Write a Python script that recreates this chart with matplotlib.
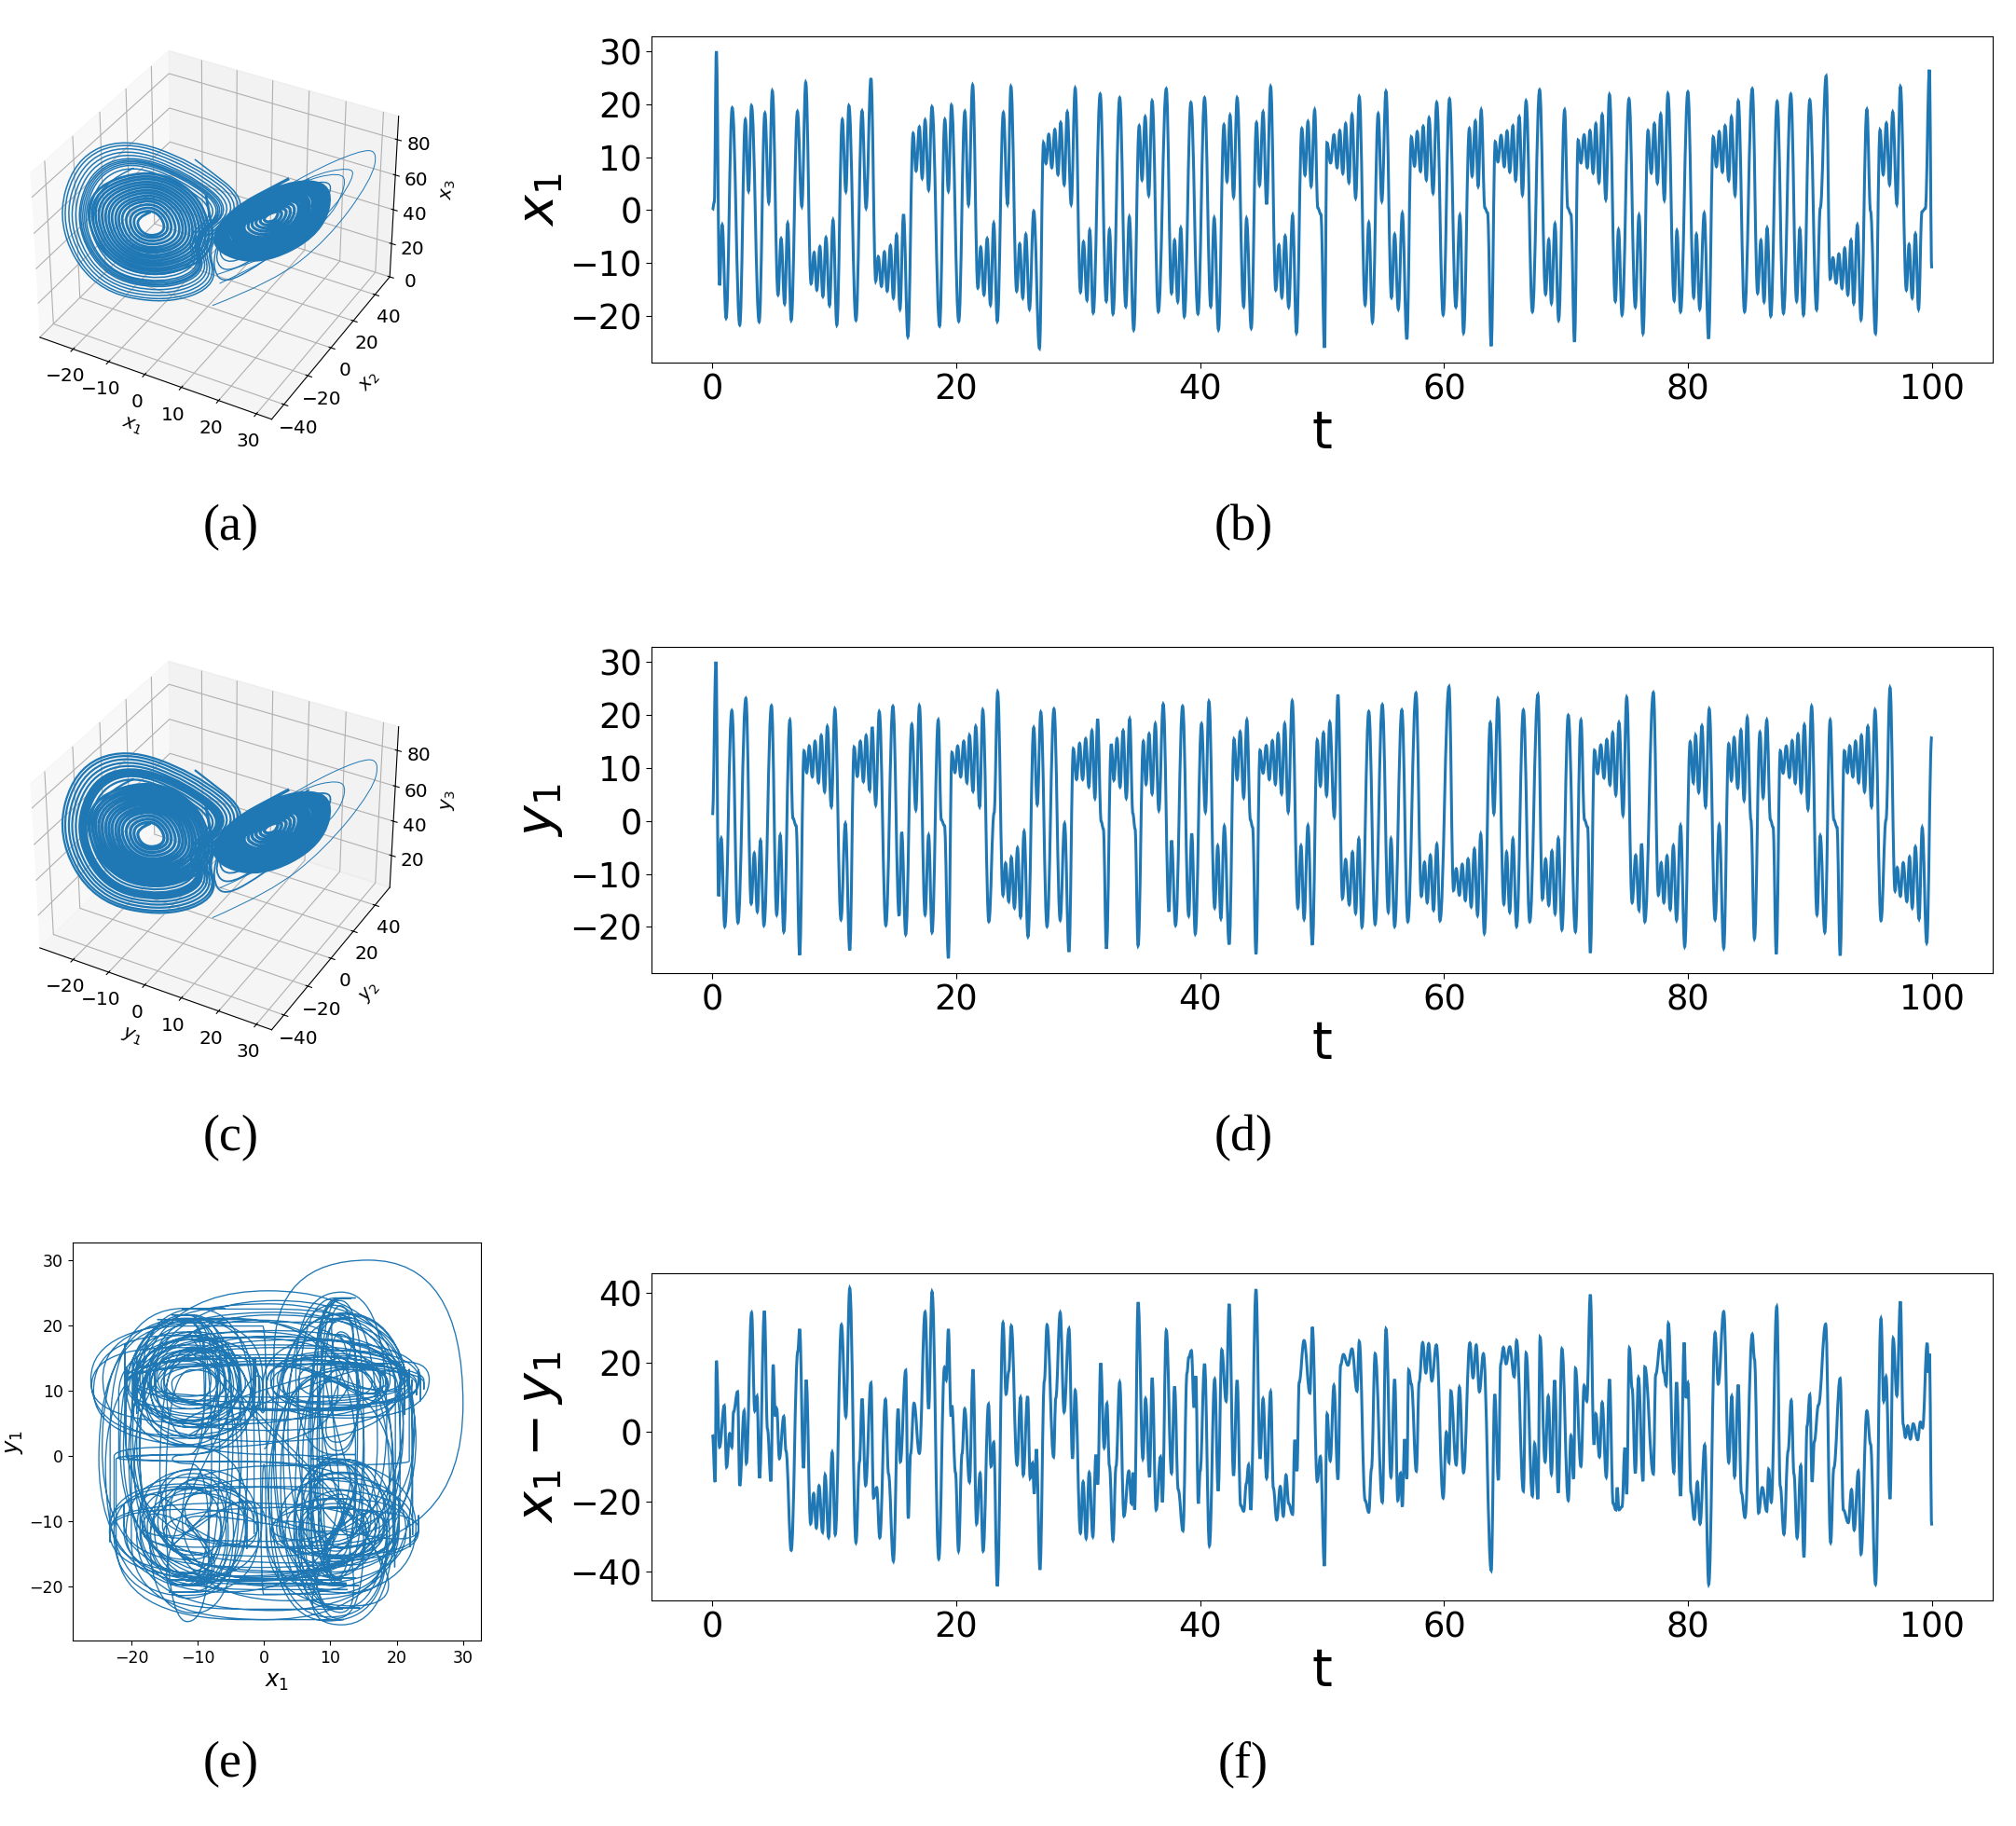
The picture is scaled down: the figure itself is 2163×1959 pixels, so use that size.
import numpy as np
import matplotlib
matplotlib.use('Agg')
import matplotlib.pyplot as plt
from matplotlib.patches import PathPatch
from matplotlib.path import Path
from mpl_toolkits.mplot3d import proj3d

x1_puntos = [(0,0),(.15,1.5),(.32,30),(.58,-14.2),(.8,-2.8),(1.12,-20.4),(1.62,19.3),(2.24,-21.7),(2.7,17.1),(2.96,3.6),
(3.2,19.7),(3.83,-21.1),(4.3,18.3),(4.62,1.4),(4.91,22.5),(5.38,-16),(5.63,-5.4),(5.92,-17.7),(6.17,-2.5),(6.46,-20.8),
(6.97,18.6),(7.33,.7),(7.65,24.1),(8.09,-13.9),(8.34,-8),(8.56,-15.1),(8.81,-6.9),(9.06,-16.3),(9.31,-5.2),(9.6,-18),
(9.89,-1.9),(10.2,-21.7),(10.65,17.1),(10.94,3.5),(11.19,19.7),(11.77,-20.8),(12.27,18.7),(12.6,.4),(13,24.9),(13.39,-13.4),
(13.6,-8.8),(13.86,-14.4),(14.1,-7.9),(14.33,-15.3),(14.6,-6.7),(14.84,-16.6),(15.1,-4.7),(15.38,-18.7),(15.67,-.8),(16.03,-23.9),
(16.46,14.5),(16.7,7.4),(16.97,15.7),(17.2,6),(17.44,17),(17.73,3.8),(18,19.5),(18.63,-21.9),(19.06,17.1),(19.35,3.6),
(19.6,19.8),(20.2,-21),(20.7,18.6),(21,1),(21.34,23.6),(21.77,-14.7),(22,-7),(22.27,-16),(22.53,-5.4),(22.8,-17.9),
(23.07,-2.5),(23.36,-21),(23.86,18.4),(24.2,1.1),(24.48,23.3),(24.95,-15.3),(25.2,-6.4),(25.45,-16.6),(25.7,-4.6),(26,-18.7),
(26.35,-.2),(26.82,-26.1),(27.15,12.7),(27.36,8.8),(27.58,14.3),(27.83,8),(28.08,15.2),(28.34,6.7),(28.56,16.5),(28.85,4.8),
(29.1,18.5),(29.42,1.1),(29.75,23),(30.18,-15.5),(30.43,-6),(30.72,-17),(30.94,-3.8),(31.23,-19.4),(31.8,21.9),(32.3,-17.2),
(32.56,-3.7),(32.85,-19.6),(33.4,21.2),(33.9,-18.2),(34.19,-1.3),(34.55,-22.6),(35,15.9),(35.23,5.7),(35.49,17.6),(35.78,2.8),
(36.06,20.6),(36.57,-19.2),(37.22,22.9),(37.65,-15.7),(37.9,-5.7),(38.16,-17.3),(38.41,-3.4),(38.7,-20.1),(39.24,20.3),(39.82,-19.6),
(40.36,21.2),(40.87,-18.2),(41.15,-1.5),(41.5,-22.6),(41.95,16.1),(42.2,5.4),(42.45,17.9),(42.74,2.5),(43.03,21.2),(43.57,-18.2),
(43.8,-1.6),(44.19,-22.3),(44.62,16.5),(44.87,4.7),(45.16,18.5),(45.45,1.1),(45.78,23.3),(46.2,-15.1),(46.46,-6.6),(46.7,-16.5),
(46.97,-4.9),(47.26,-18.3),(47.58,-1),(47.9,-23.2),(48.34,15.4),(48.6,6.6),(48.84,16.7),(49.1,4.5),(49.39,18.9),(49.65,.4),
(49.9,-.8),(50.2,-26),(50.4,12.7),(50.7,8.9),(50.97,14.2),(51.23,8),(51.45,15),(51.7,6.9),(51.93,16.3),(52.2,5.2),
(52.45,18),(52.75,2.3),(53.05,21.4),(53.53,-17.9),(53.83,-2.4),(54.13,-21.2),(54.6,18.2),(54.9,1.7),(55.24,22.4),(55.69,-16.5),
(55.95,-4.6),(56.25,-18.7),(56.58,-.6),(56.95,-24.4),(57.32,13.8),(57.58,8.3),(57.8,14.8),(58.07,7.3),(58.29,15.8),(58.55,5.7),
(58.77,17.4),(59.1,3.2),(59.4,20.3),(59.93,-19.8),(60.45,21),(60.97,-18.3),(61.3,-1),(61.6,-23.2),(62.08,15.4),(62.3,6.4),
(62.57,16.8),(62.8,4.5),(63.05,18.9),(63.35,.4),(63.57,-.5),(63.87,-25.7),(64.2,12.9),(64.42,9.1),(64.68,14.1),(64.94,8.2),
(65.17,14.9),(65.39,7.2),(65.65,15.9),(65.87,5.6),(66.17,17.6),(66.43,2.9),(66.73,20.6),(67.25,-19.2),(67.84,22.7),(68.33,-15.9),
(68.59,-5.6),(68.81,-17.6),(69.1,-2.6),(69.4,-20.8),(69.89,18.9),(70.15,.4),(70.41,-.8),(70.7,-24.9),(71,13.2),(71.23,8.9),
(71.49,14.2),(71.75,8),(71.97,15),(72.23,7),(72.45,16.3),(72.71,5.2),(72.97,18),(73.27,2),(73.57,21.8),(74.05,-17.2),
(74.31,-3.7),(74.6,-19.8),(75.17,21),(75.69,-18.3),(75.99,-1),(76.32,-23.3),(76.73,15),(77,7),(77.25,16.3),(77.5,5.1),
(77.77,18.1),(78.07,1.9),(78.36,22),(78.88,-17.1),(79.1,-3.9),(79.4,-19.2),(80,22.3),(80.48,-16.5),(80.7,-4.6),(80.97,-18.7),
(81.34,-.6),(81.7,-24.3),(82.08,13.8),(82.34,8.2),(82.57,14.8),(82.83,7.2),(83.05,15.9),(83.35,5.6),(83.57,17.6),(83.87,2.8),
(84.13,20.6),(84.65,-19.2),(85.28,22.9),(85.72,-15.7),(85.99,-5.7),(86.25,-17.3),(86.5,-3.4),(86.8,-20),(87.32,20.5),(87.84,-19.5),
(88.44,21.9),(88.92,-17.2),(89.18,-3.6),(89.48,-19.8),(90,20.8),(90.56,-18.8),(90.86,.4),(91.34,25.3),(91.67,-13),(91.9,-9),
(92.16,-13.8),(92.38,-8.3),(92.64,-14.8),(92.86,-7.2),(93.12,-16),(93.38,-5.7),(93.6,-17.6),(93.9,-2.8),(94.2,-20.7),(94.68,19),
(94.98,-.2),(95.39,-23.3),(95.76,15.1),(96.02,6.7),(96.28,16.4),(96.54,4.8),(96.8,18.5),(97.14,1.1),(97.43,23.3),(97.92,-15.1),
(98.14,-6.5),(98.4,-16.6),(98.66,-4.5),(98.92,-18.7),(99.2,-.3),(99.48,.3),(99.81,26.5),(100,-11)]

y1_puntos = [(0,1.1),(.29,30),(.5,-14.2),(.72,-3.3),(1.01,-19.9),(1.59,20.8),(2.09,-19.2),(2.74,23.1),(3.18,-15.6),(3.43,-6.1),
(3.68,-17.1),(3.94,-3.7),(4.22,-19.7),(4.84,21.7),(5.27,-17.7),(5.56,-2.7),(5.85,-20.9),(6.35,19),(6.6,.5),(6.86,-.9),
(7.15,-25.3),(7.51,13.2),(7.73,9.1),(7.94,14.1),(8.19,8.3),(8.41,15),(8.7,7.2),(8.92,16.1),(9.2,5.5),(9.42,17.8),
(9.75,2.7),(10.04,21.1),(10.54,-18.6),(10.9,-.5),(11.26,-24.4),(11.62,13.9),(11.88,8.4),(12.13,15),(12.38,7.4),(12.6,16.1),
(12.89,5.8),(13.1,17.7),(13.39,3),(13.68,20.6),(14.22,-19.7),(14.8,21.6),(15.31,-17.9),(15.52,-2.1),(15.85,-21.4),(16.35,18.2),
(16.68,2.1),(16.97,21.7),(17.44,-17.7),(17.73,-2.7),(18.01,-21),(18.52,19),(18.77,.2),(19.03,-.9),(19.35,-25.9),(19.64,12.9),
(19.89,9.1),(20.11,14.1),(20.36,8.3),(20.61,15),(20.87,7.2),(21.08,16.1),(21.37,5.6),(21.59,17.8),(21.91,2.7),(22.17,20.9),
(22.67,-19),(23.1,1.5),(23.39,24.3),(23.83,-14),(24.04,-8),(24.3,-15.2),(24.51,-6.9),(24.77,-16.4),(25.02,-5.1),(25.27,-18.1),
(25.56,-2),(25.88,-21.8),(26.35,17.6),(26.64,3.1),(26.93,20.5),(27.44,-19.9),(28.01,21.1),(28.52,-18.7),(28.88,-.5),(29.24,-24.7),
(29.6,13.6),(29.86,7.8),(30.11,14.6),(30.36,7.8),(30.61,15.5),(30.87,6.4),(31.12,17),(31.37,4.3),(31.59,19.2),(31.88,-.1),
(32.06,-1.5),(32.31,-24.1),(32.71,14.5),(32.92,7.7),(33.18,15.5),(33.43,6.4),(33.68,17),(33.94,4.3),(34.22,19.2),(34.48,1.4),
(34.66,-1.5),(34.91,-23.5),(35.34,15),(35.56,6.9),(35.81,16.4),(36.06,5.1),(36.32,18.3),(36.61,2),(36.97,22),(37.44,-17.1),
(37.65,-3.7),(37.98,-19.7),(38.56,21.6),(39.06,-17.9),(39.31,-2.4),(39.6,-21.3),(40.11,18.3),(40.43,1.7),(40.72,22.5),(41.19,-16.4),
(41.44,-4.7),(41.7,-18.4),(41.98,-1),(42.38,-23.3),(42.78,15.4),(43.03,7.8),(43.28,16.8),(43.57,4.4),(43.83,19),(44.12,.2),
(44.3,-1.2),(44.58,-25.1),(44.91,13.3),(45.16,9),(45.42,14.2),(45.67,7.8),(45.92,15.1),(46.17,6.9),(46.39,16.4),(46.68,5.1),
(46.93,18.3),(47.22,1.7),(47.55,22.6),(48.01,-16.4),(48.27,-4.7),(48.52,-18.5),(48.84,-.9),(49.2,-23.4),(49.6,15.2),(49.86,6.6),
(50.11,16.6),(50.37,4.8),(50.63,18.6),(51,.8),(51.3,23.8),(51.67,-14.6),(51.93,-7.3),(52.23,-15.8),(52.49,-5.9),(52.75,-17.4),
(53.01,-3.4),(53.27,-20),(53.83,20.6),(54.35,-19.5),(54.94,21.9),(55.43,-17.2),(55.65,-3.4),(55.95,-19.9),(56.54,20.9),(57.03,-19),
(57.7,24.1),(58.14,-14.2),(58.4,-7.8),(58.62,-15.4),(58.88,-6.5),(59.14,-16.8),(59.41,-4.4),(59.67,-18.8),(60.41,25.3),(60.78,-13.1),
(61,-9),(61.26,-14),(61.49,-8.2),(61.75,-15),(61.97,-7.2),(62.23,-16.2),(62.49,-5.3),(62.75,-17.8),(63.01,-2.5),(63.31,-21.2),
(63.79,18.5),(64.09,1.4),(64.42,23),(64.91,-15.7),(65.13,-5.9),(65.39,-17.2),(65.65,-3.4),(65.95,-19.9),(66.51,20.9),(67.03,-19),
(67.7,23.8),(68.07,-14.7),(68.33,-7.2),(68.59,-15.9),(68.85,-5.7),(69.11,-17.5),(69.37,-3.3),(69.67,-20.5),(70.19,19.9),(70.78,-20.9),
(71.23,19),(71.52,.2),(71.78,-1.2),(72,-24.9),(72.34,13.3),(72.6,8.9),(72.86,14.3),(73.12,8.1),(73.35,15.3),(73.61,6.8),
(73.83,16.6),(74.09,4.9),(74.35,18.5),(74.68,1.1),(74.98,23.3),(75.43,-15.4),(75.72,-6.5),(75.99,-16.8),(76.2,-4.3),(76.47,-19),
(77.17,24.2),(77.58,-14),(77.81,-7.9),(78.03,-15.4),(78.29,-6.6),(78.55,-16.7),(78.81,-4.7),(79.07,-18.7),(79.4,-.9),(79.74,-23.7),
(80.19,14.9),(80.45,7.2),(80.63,16.1),(80.89,5.4),(81.15,17.9),(81.45,2.7),(81.75,21.1),(82.23,-18.6),(82.57,-.8),(82.94,-24),
(83.35,14.5),(83.57,7.6),(83.79,15.7),(84.09,6.2),(84.35,17.1),(84.61,3.9),(84.87,19.5),(85.17,.2),(85.46,-22.2),(85.91,16.7),
(86.17,4.4),(86.47,19),(86.77,.2),(86.99,-1.2),(87.25,-25.1),(87.58,13.2),(87.81,9),(88.07,14.1),(88.33,8.2),(88.55,15.1),
(88.81,7.1),(89.03,16.3),(89.29,5.4),(89.55,18.1),(89.85,2.2),(90.15,21.6),(90.59,-17.7),(90.86,-2.8),(91.23,-21),(91.67,19),
(91.97,.2),(92.23,-1.2),(92.49,-25.4),(92.83,13.2),(93.09,9.1),(93.27,14.1),(93.53,8.3),(93.75,15),(94.01,7.2),(94.23,16.1),
(94.49,5.5),(94.76,17.8),(95.06,2.7),(95.35,20.9),(95.84,-18.8),(96.25,.2),(96.58,25.1),(96.99,-13.2),(97.17,-8.8),(97.43,-14.2),
(97.66,-7.9),(97.96,-15.2),(98.18,-6.8),(98.4,-16.4),(98.66,-4.9),(98.96,-18.5),(99.22,-1.3),(99.59,-23),(100,15.9)]

dif_puntos = [(0,-.7),(.22,-14.3),(.32,20.5),(.58,-4.3),(.97,7.6),(1.16,-10),(1.41,-.4),(1.59,-4.3),(1.73,5.8),(2.06,11.6),
(2.24,-15.4),(2.6,6.1),(2.78,-8.9),(3.21,34.3),(3.47,6.1),(3.65,10.3),(3.86,-13.2),(4.26,34.8),(4.51,.9),(4.8,-14.1),
(4.98,19.4),(5.16,4.5),(5.27,6.7),(5.49,-7.6),(5.85,4.5),(6.03,-5.4),(6.46,-33.9),(7,23.2),(7.15,29.6),(7.47,-10.3),
(7.69,15),(8.05,-26.3),(8.3,-17.6),(8.52,-27.5),(8.74,-15.4),(9.03,-28.7),(9.24,-12.3),(9.53,-30.2),(9.82,-5.8),(10.07,-29.4),
(10.58,30.8),(10.94,4.5),(11.26,41.3),(11.77,-31.7),(12.06,-8.5),(12.27,9.6),(12.56,-15.3),(13,14.1),(13.21,-18.9),(13.47,-15.9),
(13.72,-30.3),(14.19,9.4),(14.44,-12),(14.84,-37),(15.23,6.7),(15.41,-8.5),(15.85,17.7),(16.06,-24.8),(16.25,-6.2),(16.53,8.3),
(16.97,-6.1),(17.44,34.5),(17.73,6.7),(18.01,40.3),(18.56,-36.4),(19.03,18.6),(19.17,15),(19.35,29.6),(19.57,4.5),(19.64,7.6),
(19.93,-11.6),(20.18,-34.1),(20.47,-6.2),(20.69,6.7),(21.08,-14.3),(21.37,18),(21.66,-26.3),(21.95,-11.8),(22.2,-34.1),(22.64,8),
(22.85,-9.8),(23.07,-2.9),(23.36,-44.2),(23.83,31.4),(24.08,10.9),(24.3,17.4),(24.51,30.5),(24.98,-9.4),(25.27,10),(25.49,-12.3),
(25.85,10.3),(26.06,-13.2),(26.25,-8.9),(26.39,-17.7),(26.57,-4.9),(26.86,-39.5),(27.22,14.7),(27.44,30.8),(27.98,-7.1),(28.16,9.8),
(28.52,34.3),(28.84,5.8),(29.24,29.7),(29.53,-7.6),(29.75,12),(30.18,-29),(30.4,-14.3),(30.65,-30.5),(30.9,-11.6),(31.2,-30),
(31.45,-6.5),(31.6,-15),(31.84,19.8),(32.13,-4.5),(32.35,8.2),(32.56,-9.8),(32.85,-31),(33.1,-9.8),(33.4,14.3),(33.75,-24.1),
(34.15,-11.2),(34.37,-20.5),(34.51,-11.6),(34.62,-22.3),(34.91,37.3),(35.3,-7.6),(35.52,9.6),(35.85,-12.9),(36.06,15.6),(36.39,-22.3),
(36.75,-7.1),(36.9,-20.1),(37.22,29.2),(37.65,-11.8),(37.9,13.1),(38.2,-16.5),(38.59,-28.3),(38.92,17),(39.06,21.4),(39.28,23.4),
(39.5,7.1),(39.64,16.1),(39.85,-20.5),(40,-11.2),(40.36,19.6),(40.76,-32.6),(41.19,15.2),(41.48,-16.9),(41.77,23.6),(42.13,8.9),
(42.38,36.8),(42.74,-12.5),(43.03,14.9),(43.32,-21),(43.57,-22.7),(43.79,-14.7),(43.97,-9.4),(44.15,-22.3),(44.58,41),(44.91,-7.6),
(45.16,9.6),(45.45,-13.2),(45.78,11.6),(46,-16),(46.28,-25.2),(46.57,-15.6),(46.82,-24.1),(47.04,-12.3),(47.26,-20.5),(47.58,-23.6),
(47.76,-2.2),(47.94,-11.2),(48.12,14.3),(48.52,26.3),(49,11.2),(49.2,30.2),(49.6,-14.1),(49.86,-7),(50.19,-38.4),(50.41,5.2),
(50.67,-8.2),(50.97,13.4),(51.3,-13.6),(51.52,19.2),(51.75,22.3),(52.12,19.2),(52.45,23.9),(52.86,11.8),(53.05,26),(53.53,-19.6),
(53.83,-23),(54.05,-10.5),(54.35,22.5),(54.94,-20.1),(55.24,29.6),(55.65,-12.9),(55.95,15.2),(56.21,-19.6),(56.43,-11.8),(56.58,-21.4),
(56.77,-2),(56.95,-13.4),(57.1,17.8),(57.32,13.8),(57.73,-11.2),(57.96,14.3),(58.25,25.7),(58.51,17),(58.74,25.4),(59,14.7),
(59.37,25),(59.93,-18.9),(60.19,0),(60.41,-8.7),(60.56,11.8),(61,-9.4),(61.26,12.9),(61.6,-11.6),(62.12,25.6),(62.38,15.6),
(62.64,25),(62.9,11.6),(63.23,22.5),(63.87,-39.7),(64.16,10.9),(64.46,-13.8),(64.65,19.6),(64.87,24.3),(65.09,19.6),(65.39,24.5),
(65.76,15.9),(65.95,26.3),(66.51,-16.9),(66.73,22.7),(67.25,-18.3),(67.43,-3.3),(67.7,-19.2),(67.88,27.2),(68.29,-8.5),(68.55,10.3),
(68.81,-12),(69.07,14.9),(69.37,-17.4),(69.67,23.9),(70.19,-19.6),(70.41,-1),(70.63,-13.4),(70.78,18.3),(71.23,-9.8),(71.49,13.4),
(71.71,8.9),(72,39.5),(72.3,-3.6),(72.45,5.2),(72.75,-7.1),(72.97,8.5),(73.31,-12.9),(73.57,15.2),(73.87,-20.5),(74.09,-22.3),
(74.2,-15.9),(74.35,-22.3),(74.6,-21.4),(74.83,-4.5),(74.98,-17.8),(75.2,24.1),(75.43,12.5),(75.69,-11.8),(75.95,15.6),(76.32,-14.1),
(76.47,18.7),(77.17,-12),(77.36,16.5),(77.77,26.3),(78.03,17),(78.22,13.4),(78.4,31.2),(78.85,-11.6),(79.07,14.3),(79.4,-18.3),
(79.7,25.7),(79.85,9.8),(80,14.1),(80.26,-17.4),(80.52,-25),(80.78,-14.3),(81,-26.3),(81.38,-3.7),(81.71,-43.7),(82.23,28.5),
(82.49,13.8),(82.94,34.6),(83.35,-8.7),(83.6,10.3),(83.83,-12.7),(84.13,13.6),(84.39,-17.4),(84.68,-24.5),(85.28,28.1),(85.46,21),
(85.8,-23.2),(86.1,-15.9),(86.47,-22.7),(86.62,-10.7),(86.84,-20.1),(87.29,36),(87.58,-15.6),(87.88,-29.3),(88.22,-5.4),(88.48,9.1),
(88.7,-12),(88.96,-30.3),(89.26,-9.6),(89.52,-35.9),(89.78,1.8),(90,10.7),(90.19,-14.3),(90.37,-2.7),(90.71,7.8),(91.3,31),
(91.71,-31.7),(91.97,-10.3),(92.49,15.4),(92.75,-22.3),(93.16,-26),(93.42,-16.5),(93.64,-28.1),(93.98,-11.2),(94.2,-35),(94.68,6.1),
(94.98,-3.4),(95.39,-43.7),(95.84,32.6),(96.06,8.9),(96.25,15.9),(96.58,-19.2),(96.84,26.9),(97.14,10.5),(97.43,37.5),(97.66,2.2),
(97.84,-1.5),(98.03,1.8),(98.25,-2),(98.48,2.4),(98.85,-2.2),(99.07,2.9),(99.25,1.2),(99.63,25.6),(99.74,17),(99.81,22.5),(100,-26.8)]

# attractor rings, read as (position along the x1=x2 diagonal, height).
# one picture cannot separate x1 from x2, so both take the same reading
ala_der = [(14.5,53.9),(14.3,50.6),(12.8,48.4),(11.5,49.7),(11.9,52.2),(13.4,54.3),
(15.4,55.2),(15,49.8),(12.6,46.4),(10.6,48.4),(11.2,52.4),(13.7,55.8),
(16.4,56.5),(15.8,49.1),(12.5,44.4),(9.6,47.1),(10.6,52.7),(13.9,57.4),
(17.3,57.8),(16.6,48.3),(12.3,42.4),(8.7,45.9),(9.9,52.9),(14.2,58.9),
(18.2,59),(17.3,47.5),(12.2,40.3),(7.8,44.6),(9.3,53.2),(14.4,60.4),
(19.1,60.3),(18.1,46.8),(12,38.3),(6.9,43.3),(8.6,53.4),(14.7,61.9),
(19.7,61.2),(18.6,46.3),(11.9,37),(6.3,42.5),(8.2,53.6),(14.9,62.9),
(20.3,62),(19.1,45.8),(11.8,35.6),(5.7,41.6),(7.7,53.7),(15,63.9),
(20.9,62.9),(19.6,45.3),(11.7,34.3),(5.1,40.8),(7.3,53.9),(15.2,64.9),
(21.5,63.7),(20.1,44.8),(11.6,32.9),(4.5,39.9),(6.8,54),(15.4,66),
(22.2,64.6),(20.7,44.3),(11.5,31.6),(3.9,39),(6.4,54.2),(15.6,67),
(22.8,65.4),(21.2,43.8),(11.4,30.2),(3.2,38.2),(6,54.4),(15.7,68),
(23.4,66.3),(21.7,43.3),(11.3,28.9),(2.6,37.4),(5.5,54.5),(15.9,69),
(24,67.1),(22.2,42.8),(11.2,27.5),(2,36.5),(5.1,54.7),(16.1,70),
(24.6,68),(22.7,42.3),(11.1,26.2),(1.4,35.7),(4.6,54.8),(16.2,71),
(25.2,68.8),(23.2,41.8),(11,24.8),(.8,34.8),(4.2,55),(16.4,72),
(25.8,69.7),(23.7,41.3),(10.9,23.5),(.2,34),(3.8,55.2),(16.6,73)]

ala_der_fuera = [(23.9,66.6),(17.9,44.9),(9.8,31.8),(4.6,24.9),(2.1,31),(3.9,43.1),(11.2,51.8),(18.6,67.5),
(25.3,69.2),(19.3,44.9),(10.2,28.3),(3.9,19.7),(1.4,27.5),(3.2,41.4),(10.9,53.6),(19.6,70.1),
(26.7,71),(20.7,44.9),(10.9,24),(3.2,12.7),(.9,24),(2.5,41.4),(10.9,57),(20.7,72.7)]

ala_izq = [(-11.6,56),(-14.5,53.2),(-14,45.5),(-11.6,42),(-8.7,44.8),(-9.2,52.5),
(-11.6,57.7),(-15.3,54.2),(-14.7,44.6),(-11.6,40.3),(-7.9,43.8),(-8.5,53.4),
(-11.6,59.8),(-16.1,55.4),(-15.4,43.6),(-11.6,38.2),(-7.1,42.6),(-7.8,54.4),
(-11.6,61.9),(-17,56.7),(-16.1,42.6),(-11.6,36.1),(-6.2,41.3),(-7.1,55.4),
(-11.6,64),(-17.9,57.9),(-16.8,41.5),(-11.6,34),(-5.3,40.1),(-6.4,56.5),
(-11.6,65.7),(-18.6,59),(-17.5,40.6),(-11.6,32.3),(-4.6,39),(-5.7,57.4),
(-11.6,67.4),(-19.3,60),(-18.1,39.8),(-11.6,30.6),(-3.9,38),(-5.1,58.2),
(-11.6,69.2),(-20.1,61.1),(-18.7,38.9),(-11.6,28.8),(-3.1,36.9),(-4.5,59.1),
(-11.6,70.9),(-20.8,62.1),(-19.3,38),(-11.6,27.1),(-2.4,35.9),(-3.9,60),
(-11.6,72.7),(-21.5,63.1),(-19.9,37.2),(-11.6,25.3),(-1.7,34.9),(-3.3,60.8),
(-11.6,74.4),(-22.3,64.2),(-20.5,36.3),(-11.6,23.6),(-.9,33.8),(-2.7,61.7),
(-11.6,76.1),(-23,65.2),(-21.1,35.4),(-11.6,21.9),(-.2,32.8),(-2.1,62.6),
(-11.6,77.9),(-23.7,66.3),(-21.7,34.6),(-11.6,20.1),(.5,31.7),(-1.5,63.4),
(-11.6,79.6),(-24.4,67.3),(-22.3,33.7),(-11.6,18.4),(1.2,30.7),(-.9,64.3),
(-11.6,81.4),(-25.2,68.3),(-22.9,32.8),(-11.6,16.6),(2,29.7),(-.3,65.2)]

ala_izq_fuera = [(-14.8,80.8),(-21.4,73.4),(-24.1,49.7),(-19.6,24.8),(-9.8,18.1),(-2.4,25.4),(-4.3,41.8),(2.1,55.4),(-5.7,72.3),
(-15,82.7),(-22,74.9),(-24.9,49.8),(-20.1,23.3),(-9.7,16.2),(-1.9,24),(-3.9,41.3),(3,55.8),(-5.3,73.8),
(-15.2,84.7),(-22.6,76.4),(-25.7,49.8),(-20.6,21.8),(-9.6,14.3),(-1.3,22.5),(-3.4,40.9),(3.8,56.2),(-5,75.2),
(-15.3,85.7),(-22.9,77.2),(-26.1,49.8),(-20.8,21.1),(-9.5,13.3),(-1,21.8),(-3.2,40.7),(4.2,56.4),(-4.8,75.9),
(-15.4,86.7),(-23.2,78),(-26.5,49.8),(-21.1,20.4),(-9.4,12.3),(-.7,21),(-3,40.5),(4.6,56.5),(-4.6,76.6),
(-15.5,87.6),(-23.5,78.7),(-26.9,49.9),(-21.3,19.6),(-9.4,11.4),(-.5,20.3),(-2.8,40.2),(5.1,56.7),(-4.4,77.4),
(-15.6,88.6),(-23.8,79.5),(-27.2,49.9),(-21.6,18.9),(-9.3,10.4),(-.2,19.6),(-2.5,40),(5.5,56.9),(-4.2,78.1),
(-15.8,90.6),(-24.4,81),(-28,49.9),(-22.1,17.4),(-9.2,8.5),(.4,18.1),(-2.1,39.6),(6.3,57.3),(-3.9,79.5),
(-16,92.5),(-25,82.5),(-28.8,50),(-22.5,15.9),(-9.1,6.6),(.9,16.7),(-1.6,39.1),(7.2,57.7),(-3.5,81),
(-16.2,94.5),(-25.6,84),(-29.5,50.1),(-23,14.4),(-9,4.7),(1.5,15.2),(-1.2,38.7),(8,58.1),(-3.1,82.4),
(-16.4,96.4),(-26.2,85.5),(-30.3,50.1),(-23.5,12.9),(-8.9,2.8),(2.1,13.8),(-.7,38.2),(8.9,58.5),(-2.8,83.8),
(-16.5,97.9),(-26.7,86.6),(-30.9,50.1),(-23.9,11.8),(-8.8,1.4),(2.5,12.7),(-.4,37.9),(9.5,58.8),(-2.5,84.9)]

cola_a = [(1,.5),(13.7,13.6),(24.9,37.9),(33.3,71),(34.4,87.5),(30.5,87.5),(20.7,76.2),(9.5,57.9),(-.4,41.4)]
cola_a2 = [(2.5,13.6),(13.7,27.5),(24.9,51.8),(29.8,72.7),(29.1,78.8),(20.7,74.4),(9.5,56.2),(2.5,44.9)]
cola_a3 = [(1.8,18.8),(13,28.2),(24.9,48.3),(28.4,69.2),(27,76.2),(18.6,71),(8.1,53.6)]
cola_c = [(1,.5),(13,14.4),(24.2,38.8),(33.7,71.8),(34.7,88.3),(30.5,88.3),(20,75.3),(9.1,57),(-.4,41.4)]
cola_c2 = [(2.5,17.9),(15.8,33.6),(26,56.2),(28.4,71.8),(26.7,77.9),(19.3,73.6),(8.8,55.3)]

ticks_t = [0, 20, 40, 60, 80, 100]
AZUL = '#1f77b4'
W, H = 2163, 1959


def caja(izq, arriba, der, abajo):
    return [izq / W, 1 - abajo / H, (der - izq) / W, (abajo - arriba) / H]


def ruta_suave(xs, ys):
    # quadratic bezier that uses the read points as control points
    pts = np.column_stack([xs, ys])
    verts = [pts[0]]
    codes = [Path.MOVETO]
    for i in range(1, len(pts) - 1):
        verts += [pts[i], (pts[i] + pts[i + 1]) / 2]
        codes += [Path.CURVE3, Path.CURVE3]
    verts.append(pts[-1])
    codes.append(Path.LINETO)
    return Path(verts, codes)


def ruta_extremos(t, v):
    # bezier through every turning point, flat at each of them
    verts = [(t[0], v[0])]
    codes = [Path.MOVETO]
    for i in range(len(t) - 1):
        dt = t[i + 1] - t[i]
        verts += [(t[i] + .4 * dt, v[i]), (t[i + 1] - .4 * dt, v[i + 1]), (t[i + 1], v[i + 1])]
        codes += [Path.CURVE4] * 3
    return Path(verts, codes)


def serie(caja_px, puntos, ylabel, ylim, yticks):
    ax = fig.add_axes(caja(*caja_px))
    t, v = np.array(puntos).T
    ax.add_patch(PathPatch(ruta_extremos(t, v), fill=False, ec=AZUL, lw=2.2))
    ax.set_xlim(-5, 105)
    ax.set_ylim(*ylim)
    ax.set_xticks(ticks_t)
    ax.set_yticks(yticks)
    ax.tick_params(labelsize=26.5, length=4)
    ax.set_xlabel('t', fontsize=40, labelpad=1)
    ax.set_ylabel(ylabel, fontsize=40, labelpad=4)
    return ax


def atractor(caja_px, nombres, zlim, listas):
    ax = fig.add_axes(caja(*caja_px), projection='3d')
    ax.view_init(elev=35, azim=-61)
    ax.set_xlim(-29.5, 34)
    ax.set_ylim(-50, 54)
    ax.set_zlim(*zlim)
    ax.set_xticks([-20, -10, 0, 10, 20, 30])
    ax.set_yticks([-40, -20, 0, 20, 40])
    ax.set_zticks([t for t in [0, 20, 40, 60, 80] if t >= zlim[0]])
    ax.tick_params(labelsize=14.5, pad=2)
    ax.set_xlabel(nombres[0], fontsize=14.5, labelpad=5)
    ax.set_ylabel(nombres[1], fontsize=14.5, labelpad=5)
    ax.set_zlabel(nombres[2], fontsize=14.5, labelpad=5)
    M = ax.get_proj()
    for puntos, lw in listas:
        u, z = np.array(puntos).T
        xp, yp, _ = proj3d.proj_transform(u, u, z, M)
        fig.add_artist(PathPatch(ruta_suave(xp, yp), transform=ax.transData, fill=False,
                                 ec=AZUL, lw=lw, zorder=5))
    return ax


fig = plt.figure(figsize=(W / 100, H / 100), dpi=100)

atractor((8, 30, 448, 470), ['$x_1$', '$x_2$', '$x_3$'], (0, 93),
         [(ala_izq, 2.0), (ala_izq_fuera, 1.1), (ala_der, 2.3), (ala_der_fuera, 1.0),
          (cola_a, .7), (cola_a2, .7), (cola_a3, .7)])
atractor((8, 685, 448, 1125), ['$y_1$', '$y_2$', '$y_3$'], (1, 93),
         [(ala_izq, 2.3), (ala_izq_fuera, 1.6), (ala_der, 2.5), (ala_der_fuera, 1.3),
          (cola_c, .7), (cola_c2, .7)])

serie((699, 39, 2138, 389), x1_puntos, '$x_1$', (-28.8, 32.8), [-20, -10, 0, 10, 20, 30])
serie((699, 694, 2138, 1044), y1_puntos, '$y_1$', (-28.7, 32.8), [-20, -10, 0, 10, 20, 30])
serie((699, 1366, 2138, 1717), dif_puntos, '$x_1 - y_1$', (-48.3, 45.6), [-40, -20, 0, 20, 40])

# panel e: x1 against y1, each reading paired with the latest reading of the other series
t_x, x1 = np.array(x1_puntos).T
t_y, y1 = np.array(y1_puntos).T
t_todos = np.unique(np.concatenate([t_x, t_y]))
x1_par = x1[np.searchsorted(t_x, t_todos, side='right') - 1]
y1_par = y1[np.searchsorted(t_y, t_todos, side='right') - 1]

ax_e = fig.add_axes(caja(77.6, 1333, 516, 1760))
ax_e.add_patch(PathPatch(ruta_suave(x1_par, y1_par), fill=False, ec=AZUL, lw=.95))
ax_e.set_xlim(-28.9, 32.7)
ax_e.set_ylim(-28.3, 32.7)
ax_e.set_xticks([-20, -10, 0, 10, 20, 30])
ax_e.set_yticks([-20, -10, 0, 10, 20, 30])
ax_e.tick_params(labelsize=12.5)
ax_e.set_xlabel('$x_1$', fontsize=17.5, labelpad=3)
ax_e.set_ylabel('$y_1$', fontsize=17.5, labelpad=3)

for texto, px, py in [('(a)', 248, 566), ('(b)', 1334, 566), ('(c)', 248, 1221),
                      ('(d)', 1334, 1221), ('(e)', 248, 1893), ('(f)', 1334, 1893)]:
    fig.text(px / W, 1 - py / H, texto, fontsize=39, family='Liberation Serif', ha='center', va='center')

fig.savefig('out.png', dpi=100)
